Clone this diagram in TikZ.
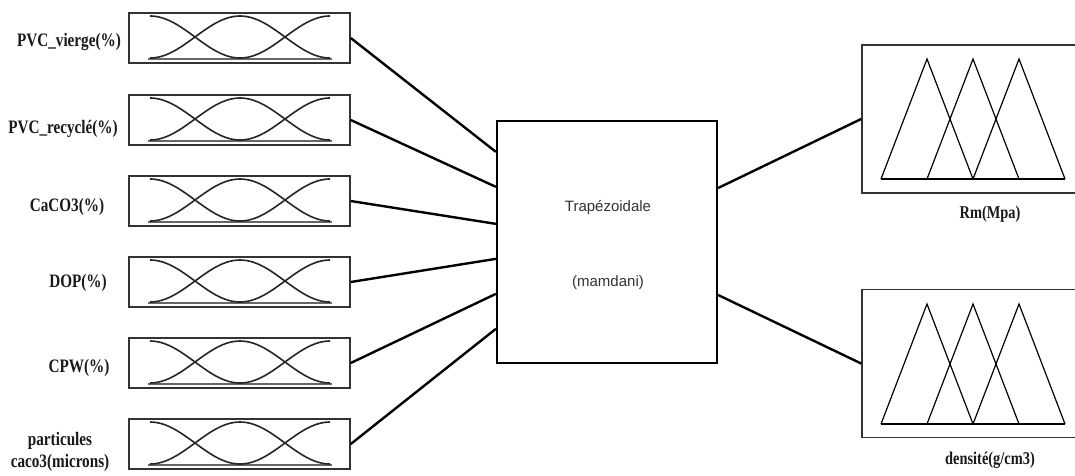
\documentclass[tikz,border=0pt]{standalone}
\usepackage{fontspec}
\setmainfont{Liberation Serif}
\setsansfont{Liberation Sans}
\newfontfamily\labfont[FakeStretch=0.8]{Liberation Serif}
\begin{document}
\begin{tikzpicture}[x=1pt,y=-1pt,
  inbox/.style={draw=black!80,line width=1.5pt,minimum width=221pt,minimum height=50pt,inner sep=0pt},
  outbox/.style={draw=black!80,line width=1.7pt,minimum width=240pt,minimum height=148pt,inner sep=0pt},
  fisbox/.style={draw=black,line width=2.3pt,minimum width=220pt,minimum height=242pt,inner sep=0pt},
  mf/.style={draw=black!85,line width=1.6pt,smooth,samples=40},
  base/.style={draw=black!60,line width=2.6pt},
  tri/.style={draw=black,line width=1.2pt,line join=miter},
  wire/.style={draw=black,line width=2.4pt},
  lab/.style={font=\labfont\fontsize{19}{22}\selectfont\bfseries,text=black!90,inner sep=0pt},
  olab/.style={font=\labfont\fontsize{18}{20}\selectfont\bfseries,text=black!90,inner sep=0pt},
  fistext/.style={font=\sffamily\fontsize{15}{17}\selectfont,text=black!80,inner sep=0pt}]
\clip (0,0) rectangle (1075,475);
\fill[white] (0,0) rectangle (1075,475);

% input membership boxes: Z, bell and S curves on a shaded base line
\foreach \i/\yc in {1/38,2/120,3/201,4/282,5/363,6/444} {
  \draw[base] (148,\yc+21) -- (332,\yc+21);
  \node[inbox] (in\i) at (239.5,\yc) {};
  \draw[mf] plot[domain=150:240] (\x,{\yc+20-21*(1+cos(2*(\x-150)))});
  \draw[mf] plot[domain=150:330] (\x,{\yc+20-21*(1-cos(2*(\x-150)))});
  \draw[mf] plot[domain=240:330] (\x,{\yc+20-21*(1-cos(2*(\x-240)))});
}

% input labels
\node[lab] (l1) at (69,42) {PVC\_vierge(\%)};
\node[lab] (l2) at (63,129) {PVC\_recyclé(\%)};
\node[lab] (l3) at (67,207) {CaCO3(\%)};
\node[lab] (l4) at (78,283) {DOP(\%)};
\node[lab] (l5) at (79,368) {CPW(\%)};
\node[lab,align=center] (l6) at (60,452) {particules\\caco3(microns)};

% inference system
\node[fisbox] (fis) at (607,242) {};
\node[fistext] (t1) at (608,208) {Trapézoidale};
\node[fistext] (t2) at (608,283) {(mamdani)};

% output membership boxes
\node[outbox] (out1) at (982,119) {};
\node[outbox] (out2) at (982,363.5) {};
\foreach \o/\top in {1/45,2/290} {
  \draw[tri] (881,\top+134) -- (1065,\top+134);
  \draw[tri] (881,\top+134) -- (927,\top+14) -- (973,\top+134);
  \draw[tri] (927,\top+134) -- (973,\top+14) -- (1019,\top+134);
  \draw[tri] (973,\top+134) -- (1019,\top+14) -- (1065,\top+134);
}
\node[olab] (r1) at (990,214) {Rm(Mpa)};
\node[olab] (r2) at (990,460) {densité(g/cm3)};

% connections
\draw[wire] (in1.east) -- ([yshift=-32pt]fis.north west);
\draw[wire] (in2.east) -- ([yshift=-67pt]fis.north west);
\draw[wire] (in3.east) -- ([yshift=-104pt]fis.north west);
\draw[wire] (in4.east) -- ([yshift=-139pt]fis.north west);
\draw[wire] (in5.east) -- ([yshift=-174pt]fis.north west);
\draw[wire] (in6.east) -- ([yshift=-209pt]fis.north west);
\draw[wire] ([yshift=54pt]fis.east) -- (out1.west);
\draw[wire] ([yshift=-53pt]fis.east) -- (out2.west);
\end{tikzpicture}
\end{document}
